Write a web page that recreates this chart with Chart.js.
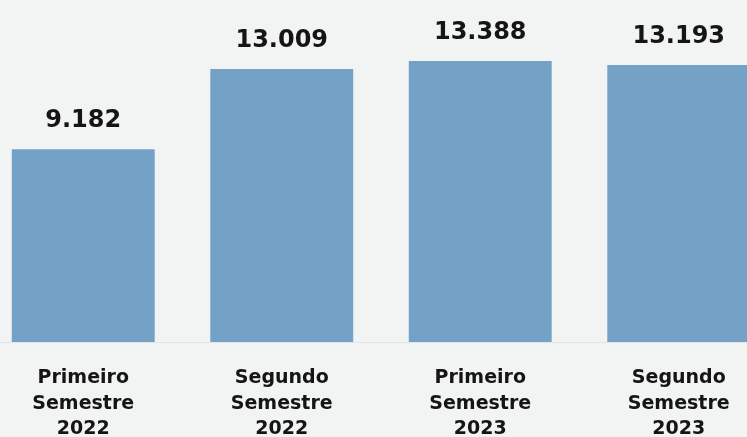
<!DOCTYPE html>
<html>
<head>
<meta charset="utf-8">
<script src="https://cdn.jsdelivr.net/npm/chart.js@4"></script>
<style>
  html, body { margin: 0; padding: 0; background: #f2f4f4; overflow: hidden; }
  #wrap { position: relative; width: 747px; height: 437px; overflow: hidden; }
  #chart { position: absolute; left: -16px; top: 0; }
</style>
</head>
<body>
<div id="wrap"><canvas id="chart" width="794" height="437"></canvas></div>
<script>
const categories = [
  ['Primeiro', 'Semestre', '2022'],
  ['Segundo', 'Semestre', '2022'],
  ['Primeiro', 'Semestre', '2023'],
  ['Segundo', 'Semestre', '2023']
];
const values = [9182, 13009, 13388, 13193];

function fmt(v) {
  return String(v).replace(/\B(?=(\d{3})+(?!\d))/g, '.');
}

// draws the numbers above each bar
const valueLabels = {
  id: 'valueLabels',
  afterDatasetsDraw(chart) {
    const ctx = chart.ctx;
    const meta = chart.getDatasetMeta(0);
    ctx.save();
    ctx.font = 'bold 24px "DejaVu Sans"';
    ctx.fillStyle = '#151515';
    ctx.textAlign = 'center';
    ctx.textBaseline = 'alphabetic';
    meta.data.forEach((bar, i) => {
      ctx.fillText(fmt(values[i]), bar.x, bar.y - 22);
    });
    ctx.restore();
  }
};

new Chart(document.getElementById('chart').getContext('2d'), {
  type: 'bar',
  data: {
    labels: categories,
    datasets: [{
      data: values,
      backgroundColor: '#74a2c6',
      borderWidth: 0,
      barPercentage: 0.72,
      categoryPercentage: 1
    }]
  },
  options: {
    responsive: false,
    animation: false,
    layout: { padding: 0 },
    plugins: {
      legend: { display: false },
      tooltip: { enabled: false }
    },
    scales: {
      x: {
        grid: { display: false, drawTicks: false },
        border: { display: true, color: '#e2e6e6', width: 1 },
        ticks: {
          color: '#151515',
          padding: 24,
          font: { family: 'DejaVu Sans', weight: 'bold', size: 19, lineHeight: 1.32 }
        },
        afterFit(scale) { scale.height = 95; }
      },
      y: {
        display: false,
        min: 0,
        max: 16290
      }
    }
  },
  plugins: [valueLabels]
});
</script>
</body>
</html>
